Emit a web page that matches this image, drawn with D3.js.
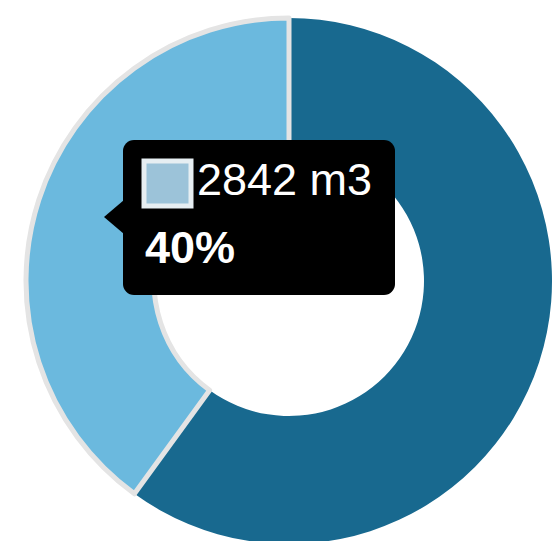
<!DOCTYPE html>
<html>
<head>
<meta charset="utf-8">
<script src="https://cdn.jsdelivr.net/npm/d3@7"></script>
<style>
body{margin:0;background:#fff;overflow:hidden}
svg{display:block}
</style>
</head>
<body>
<div id="chart"></div>
<script>
// slice data, clockwise from 12 o'clock
labels = ["other", "selected"]
volumes = [4263, 2842]
colors = ["#18698f", "#6bb9de"]
tipIndex = 1

W = 552
H = 541
cx = 289
cy = 281
R = 263
r = 135

var svg = d3.select("#chart")
    .append("svg")
    .attr("width", W)
    .attr("height", H)

var g = svg.append("g").attr("transform", "translate(" + cx + "," + cy + ")")

var pie = d3.pie().sort(null).value(function(d){return d})
var arc = d3.arc().innerRadius(r).outerRadius(R)
var arcs = pie(volumes)

g.selectAll(".slice").data(arcs)
.enter().append("path")
.attr("class", "slice")
.attr("d", arc)
.attr("fill", function(d,i){return colors[i]})
.attr("stroke", function(d,i){return i == tipIndex ? "#e4e4e4" : "none"})
.attr("stroke-width", 5)
.attr("stroke-linejoin", "round")

// put the hovered slice on top so its outline shows
g.selectAll(".slice").filter(function(d,i){return i == tipIndex}).raise()

// tooltip
total = d3.sum(volumes)
pct = Math.round(volumes[tipIndex] / total * 100)

tx = 123
ty = 140
tw = 272
th = 155
rad = 11

var tip = svg.append("g").attr("class", "tooltip")

tip.append("rect")
.attr("x", tx).attr("y", ty)
.attr("width", tw).attr("height", th)
.attr("rx", rad).attr("ry", rad)
.attr("fill", "#000")

tip.append("path")
.attr("d", "M" + (tx + 1) + "," + (ty + 60) + " L" + (tx - 19) + "," + (ty + 77) + " L" + (tx + 1) + "," + (ty + 94) + " Z")
.attr("fill", "#000")

tip.append("rect")
.attr("x", 144).attr("y", 161)
.attr("width", 47).attr("height", 45)
.attr("fill", "#9cc3d9")
.attr("stroke", "#e6eef2")
.attr("stroke-width", 5)

tip.append("text")
.attr("x", 197)
.attr("y", 195)
.attr("fill", "#fff")
.style("font-family", "'Liberation Sans', Arial, sans-serif")
.style("font-size", "45px")
.text(volumes[tipIndex] + " m3")

tip.append("text")
.attr("x", 145)
.attr("y", 263)
.attr("fill", "#fff")
.style("font-family", "'Liberation Sans', Arial, sans-serif")
.style("font-size", "45px")
.style("font-weight", "bold")
.text(pct + "%")
</script>
</body>
</html>
